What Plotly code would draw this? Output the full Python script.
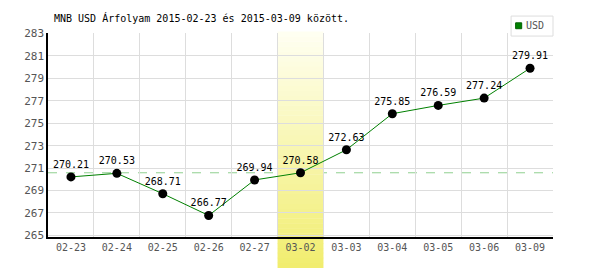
import plotly.graph_objects as go

dates = ["02-23", "02-24", "02-25", "02-26", "02-27", "03-02", "03-03", "03-04", "03-05", "03-06", "03-09"]
values = [270.21, 270.53, 268.71, 266.77, 269.94, 270.58, 272.63, 275.85, 276.59, 277.24, 279.91]
labels = [f"{v:.2f}" for v in values]
y_ticks = [265, 267, 269, 271, 273, 275, 277, 279, 281, 283]
highlight_idx = 5
series_name = "USD"
title_text = "MNB USD Árfolyam 2015-02-23 és 2015-03-09 között."

FONT = "DejaVu Sans Mono"

fig = go.Figure()

fig.add_trace(go.Scatter(
    x=dates, y=values, mode="lines+markers+text", name=series_name,
    line=dict(color="#008000", width=1),
    marker=dict(color="black", size=9),
    text=labels, textposition="top center",
    textfont=dict(family=FONT, size=10, color="black"),
    cliponaxis=False, showlegend=False, hoverinfo="skip",
))

shapes = []
# reference dashed line at highlighted value
shapes.append(dict(
    type="line", xref="paper", yref="y", x0=0, x1=1,
    y0=values[highlight_idx], y1=values[highlight_idx],
    line=dict(color="#90d090", width=1, dash="dash"), layer="below",
))
# gradient highlight column
N = 48
y_bot, y_top = -0.152, 1.005
top_c = (255, 255, 242)
bot_c = (241, 237, 110)
for i in range(N):
    t0 = i / N
    t1 = (i + 1) / N
    tm = (t0 + t1) / 2
    c = tuple(round(bot_c[k] + (top_c[k] - bot_c[k]) * tm) for k in range(3))
    shapes.append(dict(
        type="rect", xref="x", yref="paper",
        x0=highlight_idx - 0.5, x1=highlight_idx + 0.5,
        y0=y_bot + (y_top - y_bot) * t0, y1=y_bot + (y_top - y_bot) * t1 + 0.002,
        fillcolor=f"rgb{c}", line=dict(width=0), layer="between",
    ))
# compact legend box
shapes.append(dict(
    type="rect", xref="paper", yref="paper", x0=0.917, x1=1.0, y0=0.985, y1=1.083,
    fillcolor="white", line=dict(color="#dddddd", width=1), layer="above",
))
shapes.append(dict(
    type="rect", xref="paper", yref="paper", x0=0.926, x1=0.938, y0=1.021, y1=1.050,
    fillcolor="#008000", line=dict(color="#006000", width=1), layer="above",
))

fig.update_layout(
    width=600, height=270,
    margin=dict(l=48, r=47, t=33, b=33),
    paper_bgcolor="white", plot_bgcolor="white",
    shapes=shapes,
    showlegend=False,
    annotations=[
        dict(
            text=title_text, xref="paper", yref="paper",
            x=0.0085, y=1.072, xanchor="left", yanchor="middle", showarrow=False,
            font=dict(family=FONT, size=10, color="black"),
        ),
        dict(
            text=series_name, xref="paper", yref="paper",
            x=0.942, y=1.035, xanchor="left", yanchor="middle", showarrow=False,
            font=dict(family=FONT, size=10, color="#555555"),
        ),
    ],
    xaxis=dict(
        type="category", categoryorder="array", categoryarray=dates,
        range=[-0.5, len(dates) - 0.5],
        showgrid=True, gridcolor="#dddddd", gridwidth=1, tickson="boundaries",
        ticks="", showline=True, linecolor="black", linewidth=1.5,
        tickfont=dict(family=FONT, size=10, color="#555555"),
        zeroline=False, fixedrange=True,
    ),
    yaxis=dict(
        range=[264.85, 283.05], tickvals=y_ticks,
        ticktext=[str(v) for v in y_ticks],
        showgrid=True, gridcolor="#dddddd", gridwidth=1,
        ticks="", showline=True, linecolor="black", linewidth=1.5,
        tickfont=dict(family=FONT, size=11, color="#555555"),
        zeroline=False, fixedrange=True,
    ),
)

fig.write_html("out.html")
